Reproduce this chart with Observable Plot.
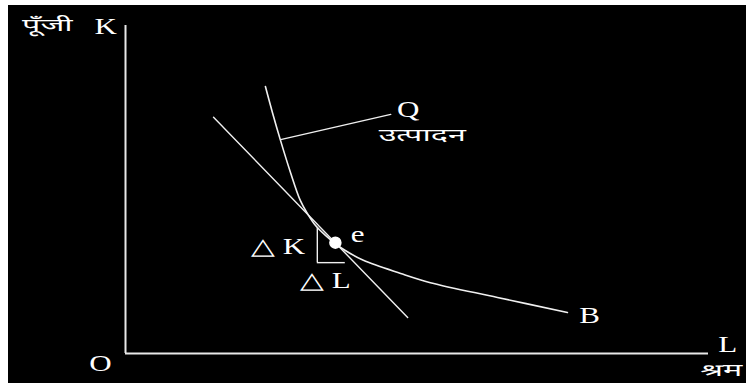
<!DOCTYPE html>
<html>
<head>
<meta charset="utf-8">
<script src="https://cdn.jsdelivr.net/npm/d3@7"></script>
<script src="https://cdn.jsdelivr.net/npm/@observablehq/plot@0.6"></script>
<style>
  html, body { margin: 0; padding: 0; background: #000; }
  #chart svg { display: block; background: #000; box-shadow: inset 8px 5px 0 #fff; }
</style>
</head>
<body>
<div id="chart"></div>
<script>
// Isoquant Q (labour L, capital K)
const curveL = [2.40, 2.52, 2.66, 2.83, 3.00, 3.12, 3.26, 3.43, 3.60, 3.77, 4.08, 4.72, 5.23, 6.38, 7.58];
const curveK = [8.14, 7.35, 6.49, 5.52, 4.66, 4.27, 3.90, 3.60, 3.35, 3.14, 2.84, 2.44, 2.16, 1.71, 1.25];
// Tangent line
const tangentL = [1.51, 4.84];
const tangentK = [7.20, 1.10];
// Leader from curve to label Q
const leaderL = [2.66, 4.55];
const leaderK = [6.52, 7.29];
// Point e
const pointL = [3.60];
const pointK = [3.38];
// ΔK / ΔL triangle
const deltaL = [3.29, 3.77];
const deltaK = [2.77, 3.81];
// Latin labels
const latinText = ["K", "O", "L", "Q", "e", "\u25B3 K", "\u25B3 L", "B"];
const latinL = [-0.34, -0.43, 10.33, 4.85, 3.98, 2.62, 3.43, 7.96];
const latinK = [9.97, -0.30, 0.27, 7.44, 3.63, 3.26, 2.23, 1.16];
// Hindi labels
const hindiText = ["पूँजी", "श्रम", "उत्पादन"];
const hindiL = [-1.34, 10.22, 5.09];
const hindiK = [10.0, -0.51, 6.65];

const curve = curveL.map((L, i) => ({L, K: curveK[i]}));
const tangent = tangentL.map((L, i) => ({L, K: tangentK[i]}));
const leader = leaderL.map((L, i) => ({L, K: leaderK[i]}));
const pts = pointL.map((L, i) => ({L, K: pointK[i]}));
const latin = latinText.map((t, i) => ({t, L: latinL[i], K: latinK[i]}));
const hindi = hindiText.map((t, i) => ({t, L: hindiL[i], K: hindiK[i]}));

const plot = Plot.plot({
  width: 746,
  height: 383,
  marginLeft: 125,
  marginRight: 38,
  marginTop: 25,
  marginBottom: 30,
  x: {domain: [0, 10], axis: null},
  y: {domain: [0, 10], axis: null},
  style: {background: "#000", color: "#fff", overflow: "visible"},
  marks: [
    Plot.ruleX([0], {stroke: "#e8e8e8", strokeWidth: 2}),
    Plot.ruleY([0], {stroke: "#e8e8e8", strokeWidth: 2}),
    Plot.line(tangent, {x: "L", y: "K", stroke: "#f0f0f0", strokeWidth: 1.4}),
    Plot.line(curve, {x: "L", y: "K", stroke: "#f0f0f0", strokeWidth: 1.6, curve: "catmull-rom"}),
    Plot.line(leader, {x: "L", y: "K", stroke: "#f0f0f0", strokeWidth: 1.4}),
    Plot.ruleX([deltaL[0]], {y1: deltaK[0], y2: deltaK[1], stroke: "#f0f0f0", strokeWidth: 1.4}),
    Plot.ruleY([deltaK[0]], {x1: deltaL[0], x2: deltaL[1], stroke: "#f0f0f0", strokeWidth: 1.4}),
    Plot.dot(pts, {x: "L", y: "K", r: 5.5, fill: "#fff", stroke: "#fff"}),
    Plot.text(latin, {x: "L", y: "K", text: "t", fill: "#fff", fontSize: 23, fontFamily: "Liberation Serif"}),
    Plot.text(hindi, {x: "L", y: "K", text: "t", fill: "#fff", fontSize: 17, fontFamily: "Noto Sans Devanagari, Noto Sans, sans-serif"})
  ]
});
document.getElementById("chart").appendChild(plot);

// The reference lettering is stretched horizontally
const groups = d3.select(plot).selectAll('g[aria-label="text"]').nodes();
const stretch = [1.35, 1.9];
groups.forEach((g, gi) => {
  d3.select(g).selectAll("text").attr("transform", function() {
    return (this.getAttribute("transform") || "") + ` scale(${stretch[gi]},1)`;
  });
});
</script>
</body>
</html>
